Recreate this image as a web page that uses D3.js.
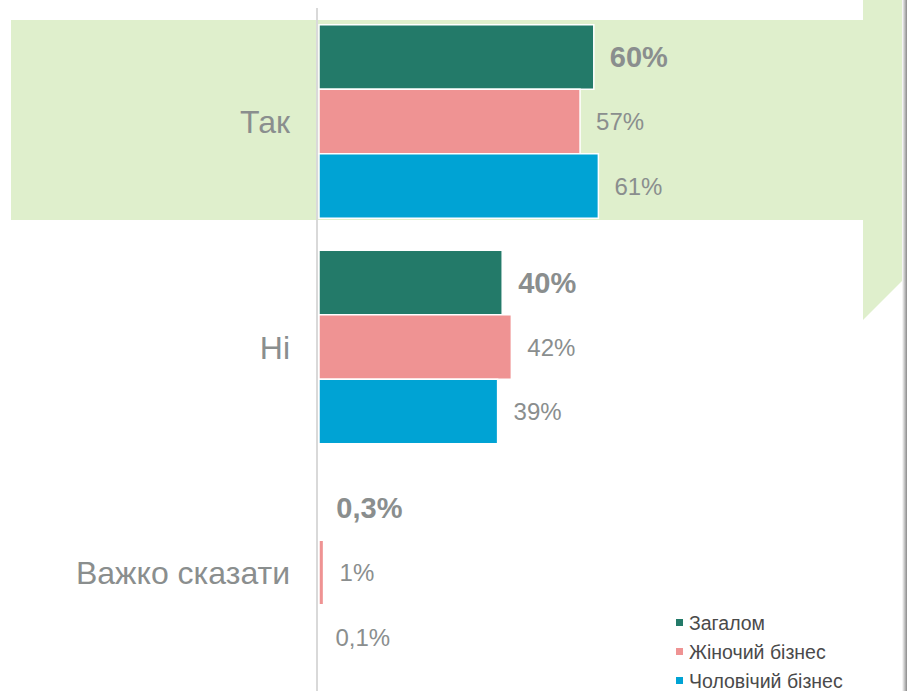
<!DOCTYPE html>
<meta charset="utf-8">
<style>
  body { margin: 0; background: #fff; }
  svg { display: block; font-family: "Liberation Sans", Arial, sans-serif; }
</style>
<svg width="907" height="691"></svg>
<script src="https://d3js.org/d3.v7.min.js"></script>
<script>
var categories = ["Так", "Ні", "Важко сказати"]
var seriesNames = ["Загалом", "Жіночий бізнес", "Чоловічий бізнес"]
var totalValues = [60, 40, 0.3]
var womenValues = [57, 42, 1]
var menValues = [61, 39, 0.1]
var colors = ["#237a69", "#ef9393", "#00a3d4"]

var series = [totalValues, womenValues, menValues]

var svg = d3.select("svg")

// green highlight behind the first group
svg.append("polygon")
  .attr("points", "11,20 863,20 863,0 907,0 907,276 863,320 863,220 11,220")
  .attr("fill", "#dfefcc")

// slide edge shadow
var grad = svg.append("defs").append("linearGradient").attr("id", "edge")
grad.append("stop").attr("offset", "0%").attr("stop-color", "#ffffff")
grad.append("stop").attr("offset", "100%").attr("stop-color", "#8a8a8a")
svg.append("rect").attr("x", 902).attr("y", 0).attr("width", 5).attr("height", 691)
  .attr("fill", "url(#edge)")

var x = d3.scaleLinear().domain([0, 100]).range([319, 777])

var y = d3.scaleBand()
  .domain(categories)
  .range([8.75, 685.25])
  .paddingInner(0.142)
  .paddingOuter(0.071)

var ySub = d3.scaleBand()
  .domain(d3.range(series.length))
  .range([0, y.bandwidth()])

// axis line
svg.append("line")
  .attr("x1", 317).attr("x2", 317)
  .attr("y1", 8).attr("y2", 691)
  .attr("stroke", "#d9d9d9").attr("stroke-width", 2)

var fmt = function (v) { return String(v).replace(".", ",") + "%" }

series.forEach(function (vals, s) {
  var g = svg.append("g")
  g.selectAll("rect")
    .data(vals)
    .enter().append("rect")
      .attr("x", x(0))
      .attr("y", function (d, i) { return y(categories[i]) + ySub(s) })
      .attr("width", function (d) { return x(d) - x(0) })
      .attr("height", ySub.bandwidth())
      .attr("fill", colors[s])
      .attr("stroke", "#fff")
      .attr("stroke-width", 1.5)
  g.selectAll("text")
    .data(vals)
    .enter().append("text")
      .attr("x", function (d) { return x(d) + 16 })
      .attr("y", function (d, i) { return y(categories[i]) + ySub(s) + ySub.bandwidth() / 2 })
      .attr("dy", "0.36em")
      .attr("fill", "#8a8e8e")
      .attr("font-size", s === 0 ? 29 : 24)
      .attr("font-weight", s === 0 ? "bold" : "normal")
      .text(fmt)
})

// category labels
svg.append("g").selectAll("text")
  .data(categories)
  .enter().append("text")
    .attr("x", 290)
    .attr("y", function (d) { return y(d) + y.bandwidth() / 2 })
    .attr("dy", "0.36em")
    .attr("text-anchor", "end")
    .attr("font-size", 32)
    .attr("fill", "#8a8e8e")
    .text(function (d) { return d })

// legend
var legend = svg.append("g").selectAll("g")
  .data(seriesNames)
  .enter().append("g")
    .attr("transform", function (d, i) { return "translate(676," + (623 + i * 29) + ")" })
legend.append("rect")
  .attr("x", 0).attr("y", -4).attr("width", 7).attr("height", 7)
  .attr("fill", function (d, i) { return colors[i] })
legend.append("text")
  .attr("x", 13).attr("dy", "0.36em")
  .attr("font-size", 19.5)
  .attr("fill", "#4a4a4a")
  .text(function (d) { return d })
</script>
